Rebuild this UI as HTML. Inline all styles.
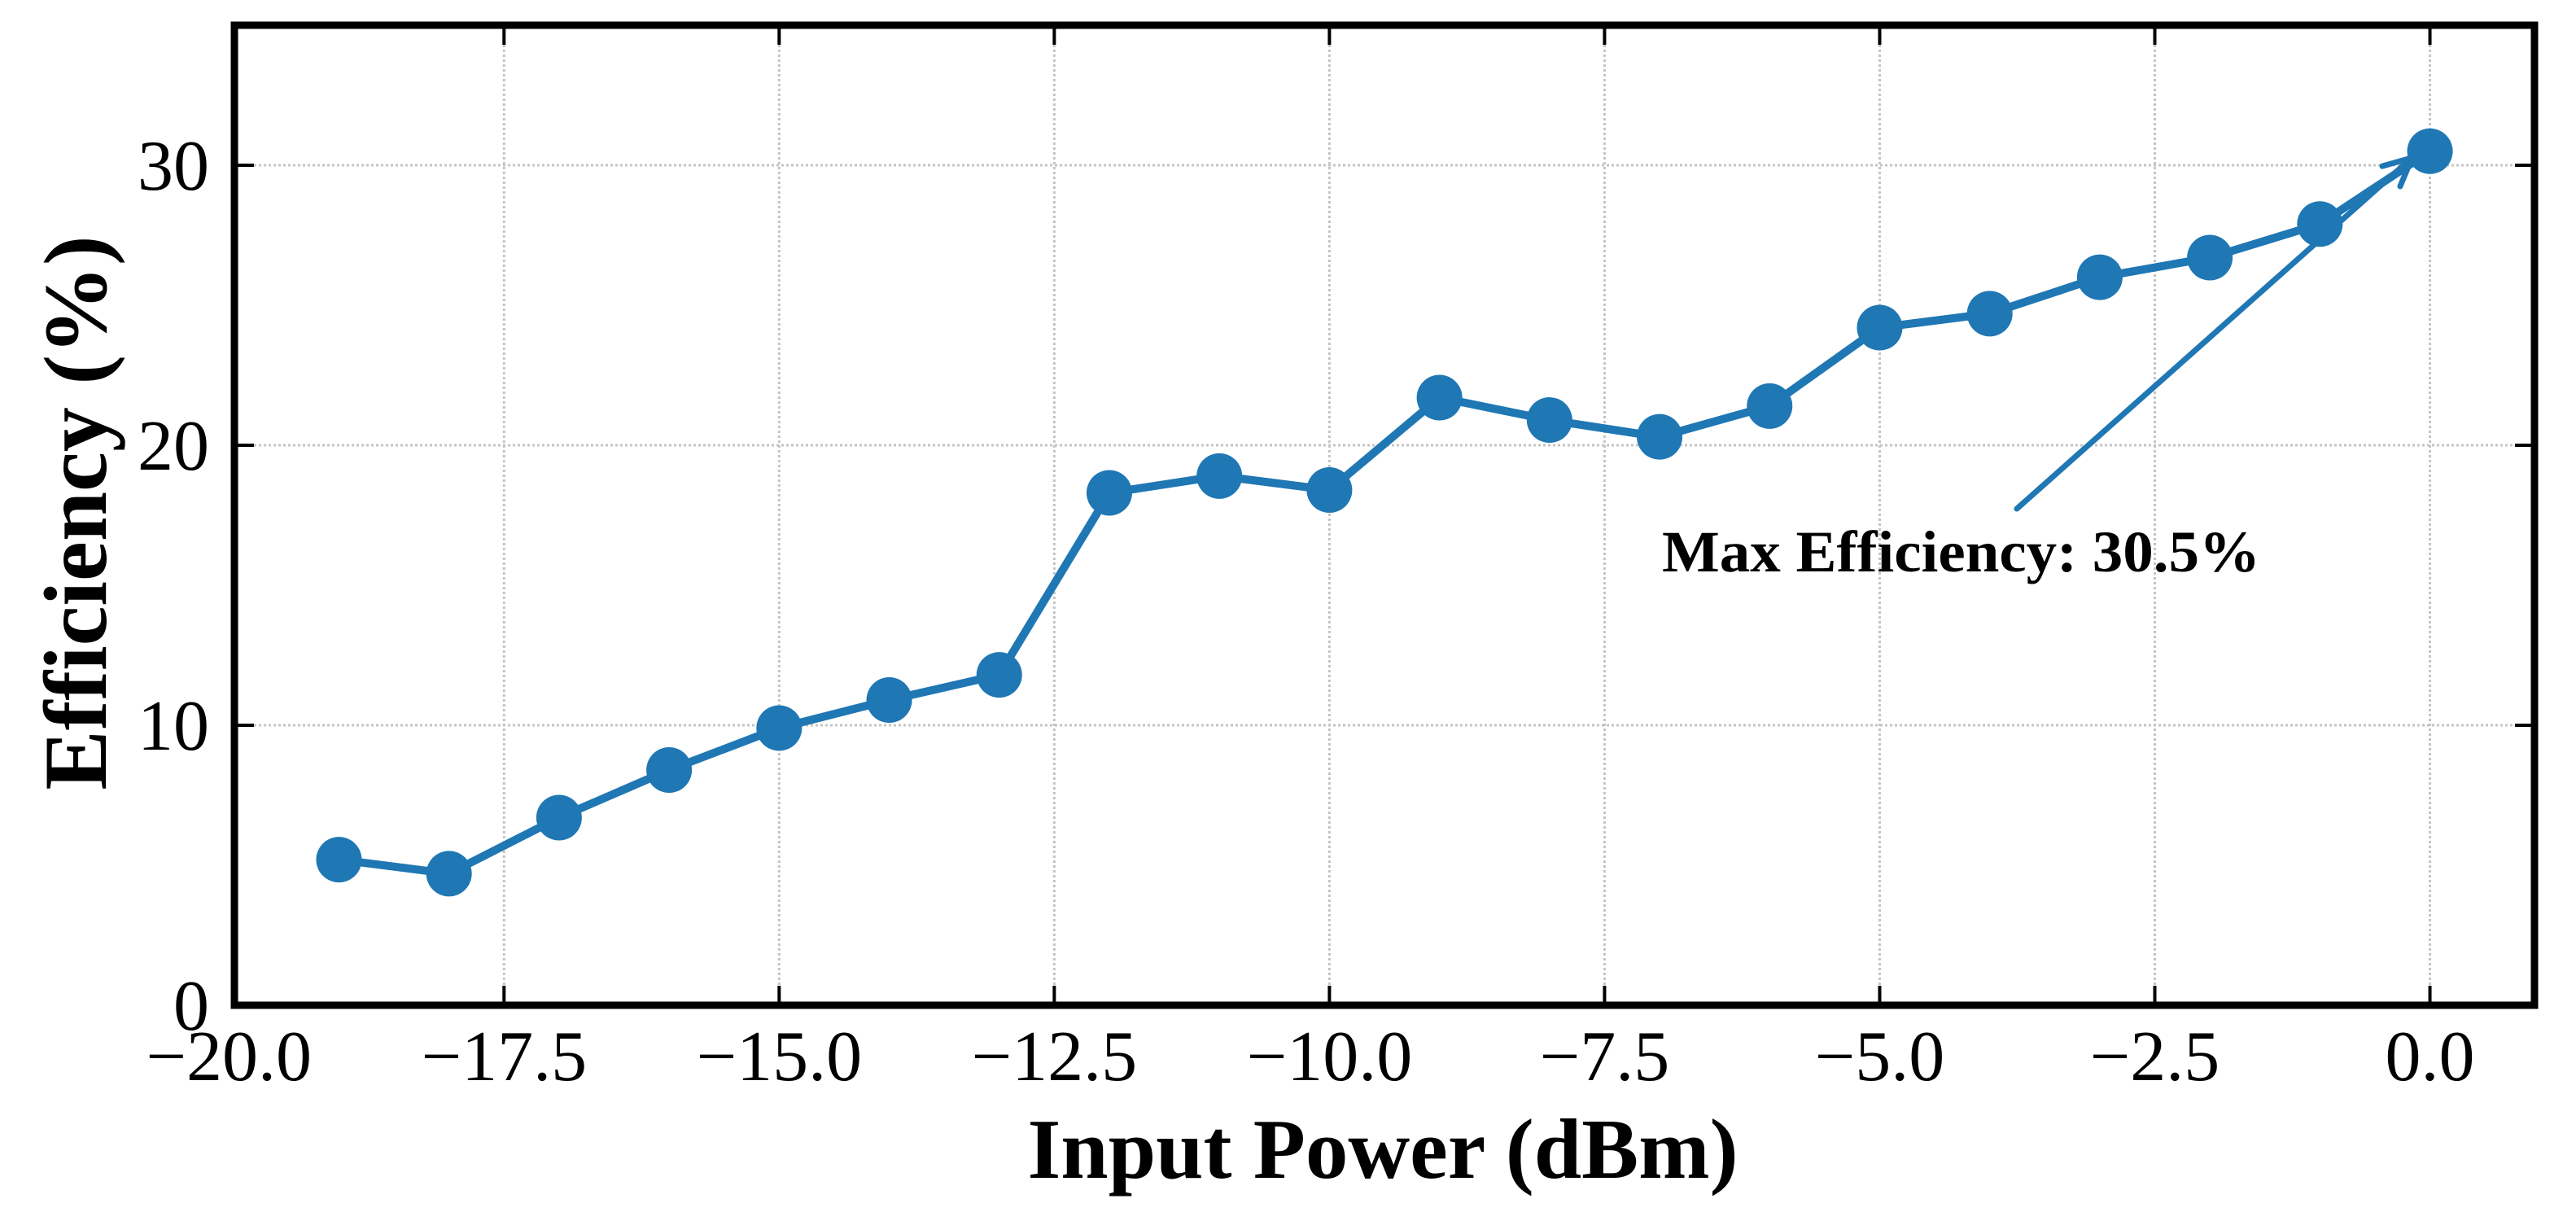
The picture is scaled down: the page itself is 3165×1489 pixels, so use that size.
<!DOCTYPE html>
<html><head><meta charset="utf-8"><style>
html,body{margin:0;padding:0;background:#fff;}
svg{display:block;}
text{font-family:"Liberation Serif","DejaVu Serif",serif;}
</style></head><body>
<svg id="chart" width="3165" height="1489" viewBox="0 0 3165 1489" xmlns="http://www.w3.org/2000/svg">
<g id="grid"></g>
<g id="series"></g>
<g id="annot"></g>
<g id="axes"></g>
<text x="1699" y="1447" font-size="105" font-weight="bold" text-anchor="middle">Input Power (dBm)</text>
<text transform="translate(130,630) rotate(-90)" font-size="110" font-weight="bold" text-anchor="middle">Efficiency (%)</text>
</svg>
<script>
const xValues=[-19,-18,-17,-16,-15,-14,-13,-12,-11,-10,-9,-8,-7,-6,-5,-4,-3,-2,-1,0];
const efficiency=[5.2,4.7,6.7,8.4,9.9,10.9,11.8,18.3,18.9,18.4,21.7,20.9,20.3,21.4,24.2,24.7,26.0,26.7,27.9,30.5];
const xTicks=[-20,-17.5,-15,-12.5,-10,-7.5,-5,-2.5,0];
const xTickLabels=["\u221220.0","\u221217.5","\u221215.0","\u221212.5","\u221210.0","\u22127.5","\u22125.0","\u22122.5","0.0"];
const yTicks=[0,10,20,30];
const yTickLabels=["0","10","20","30"];
const annotationText="Max Efficiency: 30.5%";

const NS="http://www.w3.org/2000/svg";
const L=288,R=3114,T=31,B=1235;
const xMin=-19.95,xMax=0.95,yMin=0,yMax=35;
const sx=v=>L+(v-xMin)/(xMax-xMin)*(R-L);
const sy=v=>B-(v-yMin)/(yMax-yMin)*(B-T);
function mk(tag,attrs,parent){const e=document.createElementNS(NS,tag);for(const k in attrs)e.setAttribute(k,attrs[k]);parent.appendChild(e);return e;}
const grid=document.getElementById('grid'),series=document.getElementById('series'),annot=document.getElementById('annot'),axes=document.getElementById('axes');

xTicks.forEach((t,i)=>{
  const x=sx(t);
  if(x>L&&x<R){const g=mk('line',{x1:x,x2:x,y1:T,y2:B,stroke:'#c4c4c4','stroke-width':3,'stroke-dasharray':'3,3'},grid);
  
  }
  if(x>=L-1&&x<=R){
  const a=mk('line',{x1:x,x2:x,y1:B,y2:B-24,stroke:'#000','stroke-width':4},axes);
  
  
  const b=mk('line',{x1:x,x2:x,y1:T,y2:T+24,stroke:'#000','stroke-width':4},axes);
  
  }
  const lb=mk('text',{x:x,y:1327,'font-size':88,'text-anchor':'middle'},axes);
  lb.textContent=xTickLabels[i];
  
  
});
yTicks.forEach((t,i)=>{
  const y=sy(t);
  if(y<B&&y>T){const g=mk('line',{x1:L,x2:R,y1:y,y2:y,stroke:'#c4c4c4','stroke-width':3,'stroke-dasharray':'3,3'},grid);
  
  }
  const a=mk('line',{x1:L,x2:L+24,y1:y,y2:y,stroke:'#000','stroke-width':4},axes);
  
  
  const b=mk('line',{x1:R,x2:R-24,y1:y,y2:y,stroke:'#000','stroke-width':4},axes);
  
  
  const lb=mk('text',{x:257,y:y+30,'font-size':88,'text-anchor':'end'},axes);
  lb.textContent=yTickLabels[i];
  
  
});

const pts=xValues.map((v,i)=>sx(v).toFixed(1)+','+sy(efficiency[i]).toFixed(1)).join(' ');
const line=mk('polyline',{points:pts,fill:'none',stroke:'#1f77b4','stroke-width':10,'stroke-linejoin':'round'},series);


xValues.forEach((v,i)=>{
  const c=mk('circle',{cx:sx(v),cy:sy(efficiency[i]),r:28,fill:'#1f77b4'},series);
  
  
});

let mi=0;efficiency.forEach((v,i)=>{if(v>efficiency[mi])mi=i;});
const ax=sx(xValues[mi])-22,ay=sy(efficiency[mi])+8;
const tx=2478,ty=625;
const arr=mk('line',{x1:tx,y1:ty,x2:ax,y2:ay,stroke:'#1f77b4','stroke-width':7,'stroke-linecap':'round'},annot);


const ang=Math.atan2(ay-ty,ax-tx),hl=38;
const hd=mk('polyline',{points:`${ax-hl*Math.cos(ang-0.45)},${ay-hl*Math.sin(ang-0.45)} ${ax},${ay} ${ax-hl*Math.cos(ang+0.45)},${ay-hl*Math.sin(ang+0.45)}`,fill:'none',stroke:'#1f77b4','stroke-width':7,'stroke-linecap':'round'},annot);


const at=mk('text',{x:2042,y:702,'font-size':72,'font-weight':'bold',textLength:735,lengthAdjust:'spacingAndGlyphs'},annot);
at.textContent=annotationText;



const fr=mk('rect',{x:L,y:T,width:R-L,height:B-T,fill:'none',stroke:'#000','stroke-width':9},axes);


</script>
</body></html>
